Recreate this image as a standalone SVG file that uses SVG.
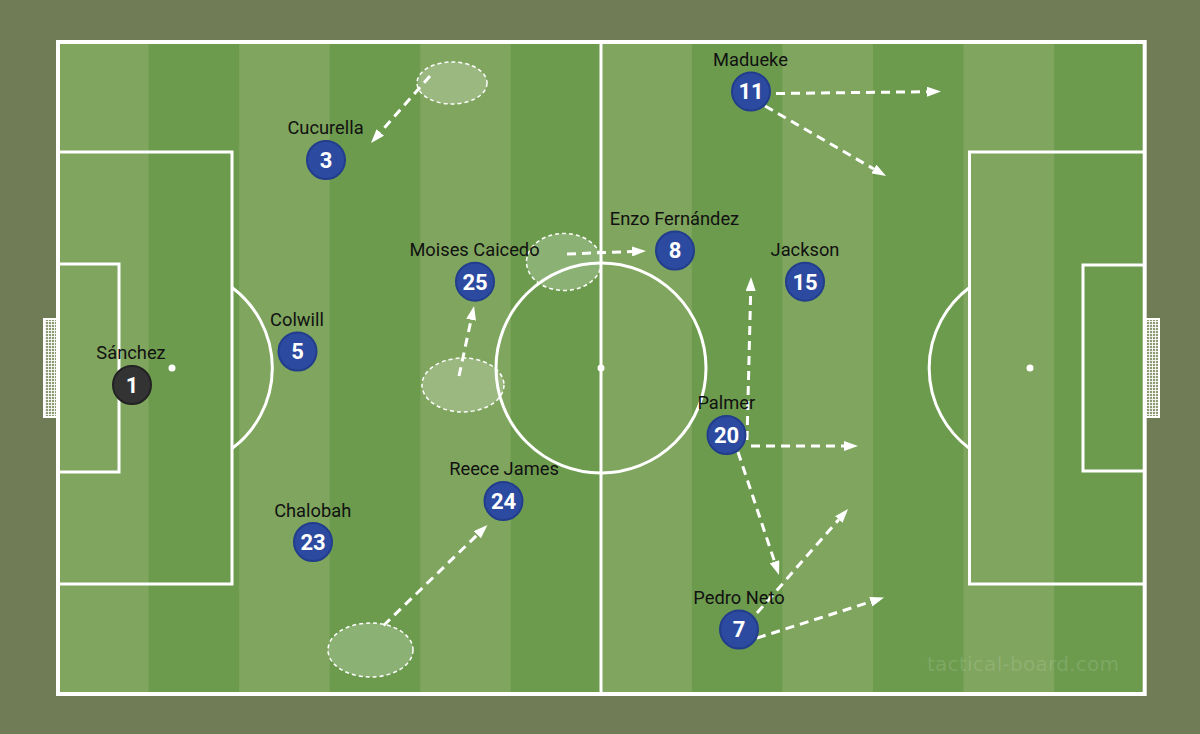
<svg xmlns="http://www.w3.org/2000/svg" width="1200" height="734" viewBox="0 0 1200 734">
  <style>
    .line { fill: none; stroke: #ffffff; stroke-width: 3; }
    .outer { fill: none; stroke: #ffffff; stroke-width: 4; }
    .spot { fill: #ffffff; }
    .zone { fill: #ffffff; fill-opacity: 0.22; stroke: #ffffff; stroke-width: 1.5; stroke-dasharray: 4 3; }
    .run { fill: none; stroke: #ffffff; stroke-width: 3; stroke-dasharray: 9 6; marker-end: url(#ah); }
    .disc { fill: #2c4a9f; stroke: #223d8c; stroke-width: 2; }
    .gk { fill: #333333; stroke: #222222; stroke-width: 2; }
    .num { font-family: Roboto, "Liberation Sans", sans-serif; font-weight: bold; font-size: 22px; fill: #ffffff; text-anchor: middle; }
    .name { font-family: Roboto, "Liberation Sans", sans-serif; font-size: 18.3px; fill: #111111; text-anchor: middle; }
    .wm { font-family: "DejaVu Sans", sans-serif; font-size: 20px; fill: #ffffff; fill-opacity: 0.13; }
    .net { fill: url(#netp); stroke: #ffffff; stroke-width: 2; }
  </style>
  <defs>
    <marker id="ah" viewBox="0 0 14 10" refX="0" refY="5" markerWidth="14" markerHeight="10" markerUnits="userSpaceOnUse" orient="auto">
      <path d="M0,0 L14,5 L0,10 Z" fill="#ffffff"/>
    </marker>
    <pattern id="netp" width="3" height="3" patternUnits="userSpaceOnUse">
      <rect width="3" height="3" fill="#8d9a73"/>
      <path d="M0,0.5 H3 M0.5,0 V3" stroke="#ffffff" stroke-opacity="0.85" stroke-width="1"/>
    </pattern>
  </defs>

  <rect x="0" y="0" width="1200" height="734" fill="#6f7c55"/>

  <g id="pitch">
    <rect x="58" y="42" width="1086.7" height="652" fill="#7fa55e"/>
    <rect x="148.6" y="42" width="90.5" height="652" fill="#6c9b4e"/>
    <rect x="329.7" y="42" width="90.5" height="652" fill="#6c9b4e"/>
    <rect x="510.8" y="42" width="90.5" height="652" fill="#6c9b4e"/>
    <rect x="691.9" y="42" width="90.5" height="652" fill="#6c9b4e"/>
    <rect x="873.0" y="42" width="90.5" height="652" fill="#6c9b4e"/>
    <rect x="1054.1" y="42" width="90.6" height="652" fill="#6c9b4e"/>

    <rect class="net" x="44" y="319" width="13" height="98"/>
    <rect class="net" x="1146" y="319" width="13" height="98"/>

    <rect class="outer" x="58" y="42" width="1086.7" height="652"/>
    <line class="line" x1="601" y1="42" x2="601" y2="694"/>
    <circle class="line" cx="601" cy="368" r="105"/>
    <circle class="spot" cx="601" cy="368" r="3.5"/>

    <path class="line" d="M58,152 H232 V584 H58"/>
    <path class="line" d="M58,264 H119 V472 H58"/>
    <path class="line" d="M232,287.5 A100.5,100.5 0 0 1 232,448.5"/>
    <circle class="spot" cx="172" cy="368" r="3.5"/>

    <path class="line" d="M1144.7,152 H969.5 V584 H1144.7"/>
    <path class="line" d="M1144.7,265 H1083 V471 H1144.7"/>
    <path class="line" d="M969.5,287.5 A100.5,100.5 0 0 0 969.5,448.5"/>
    <circle class="spot" cx="1030" cy="368" r="3.5"/>

    <text class="wm" x="927" y="671" textLength="192">tactical-board.com</text>
  </g>

  <g id="zones">
    <ellipse class="zone" cx="452" cy="83" rx="35" ry="21"/>
    <ellipse class="zone" cx="564" cy="262" rx="37.5" ry="28.5"/>
    <ellipse class="zone" cx="463" cy="385" rx="41" ry="27"/>
    <ellipse class="zone" cx="370.5" cy="650" rx="42.5" ry="27"/>
  </g>

  <g id="connectors">
    <line class="run" x1="430" y1="76" x2="380.3" y2="132.5"/>
    <line class="run" x1="459" y1="376" x2="471.1" y2="319.7"/>
    <line class="run" x1="567" y1="254" x2="632" y2="251.5"/>
    <line class="run" x1="776" y1="93.5" x2="927" y2="91.7"/>
    <line class="run" x1="765" y1="106" x2="873.9" y2="169"/>
    <line class="run" x1="747" y1="440" x2="750.7" y2="291"/>
    <line class="run" x1="751" y1="446" x2="844" y2="446"/>
    <line class="run" x1="738" y1="452" x2="774.6" y2="561.7"/>
    <line class="run" x1="757" y1="613" x2="838.8" y2="519.5"/>
    <line class="run" x1="757" y1="638" x2="870.7" y2="601.8"/>
    <line class="run" x1="383.5" y1="625.5" x2="477.4" y2="534.7"/>
  </g>

  <g id="p-sanchez">
    <circle class="gk" cx="132" cy="385" r="19"/>
    <text class="num" x="132" y="392.8">1</text>
    <text class="name" x="131" y="359">Sánchez</text>
  </g>
  <g id="p-cucurella">
    <circle class="disc" cx="326" cy="160" r="19"/>
    <text class="num" x="326" y="167.8">3</text>
    <text class="name" x="325.5" y="134">Cucurella</text>
  </g>
  <g id="p-colwill">
    <circle class="disc" cx="297.5" cy="351.5" r="19"/>
    <text class="num" x="297.5" y="359.3">5</text>
    <text class="name" x="297" y="326">Colwill</text>
  </g>
  <g id="p-chalobah">
    <circle class="disc" cx="313" cy="542" r="19"/>
    <text class="num" x="313" y="549.8">23</text>
    <text class="name" x="312.7" y="516.5">Chalobah</text>
  </g>
  <g id="p-caicedo">
    <circle class="disc" cx="475" cy="281.7" r="19"/>
    <text class="num" x="475" y="289.5">25</text>
    <text class="name" x="474.5" y="256">Moises Caicedo</text>
  </g>
  <g id="p-james">
    <circle class="disc" cx="503.5" cy="501" r="19"/>
    <text class="num" x="503.5" y="508.8">24</text>
    <text class="name" x="504" y="475">Reece James</text>
  </g>
  <g id="p-fernandez">
    <circle class="disc" cx="675" cy="250.5" r="19"/>
    <text class="num" x="675" y="258.3">8</text>
    <text class="name" x="674.5" y="225">Enzo Fernández</text>
  </g>
  <g id="p-madueke">
    <circle class="disc" cx="751" cy="91.5" r="19"/>
    <text class="num" x="751" y="99.3">11</text>
    <text class="name" x="750.5" y="66">Madueke</text>
  </g>
  <g id="p-jackson">
    <circle class="disc" cx="805" cy="281.7" r="19"/>
    <text class="num" x="805" y="289.5">15</text>
    <text class="name" x="805" y="256">Jackson</text>
  </g>
  <g id="p-palmer">
    <circle class="disc" cx="726.5" cy="435" r="19"/>
    <text class="num" x="726.5" y="442.8">20</text>
    <text class="name" x="726.3" y="409">Palmer</text>
  </g>
  <g id="p-neto">
    <circle class="disc" cx="739" cy="629.5" r="19"/>
    <text class="num" x="739" y="637.3">7</text>
    <text class="name" x="739" y="604">Pedro Neto</text>
  </g>
</svg>
